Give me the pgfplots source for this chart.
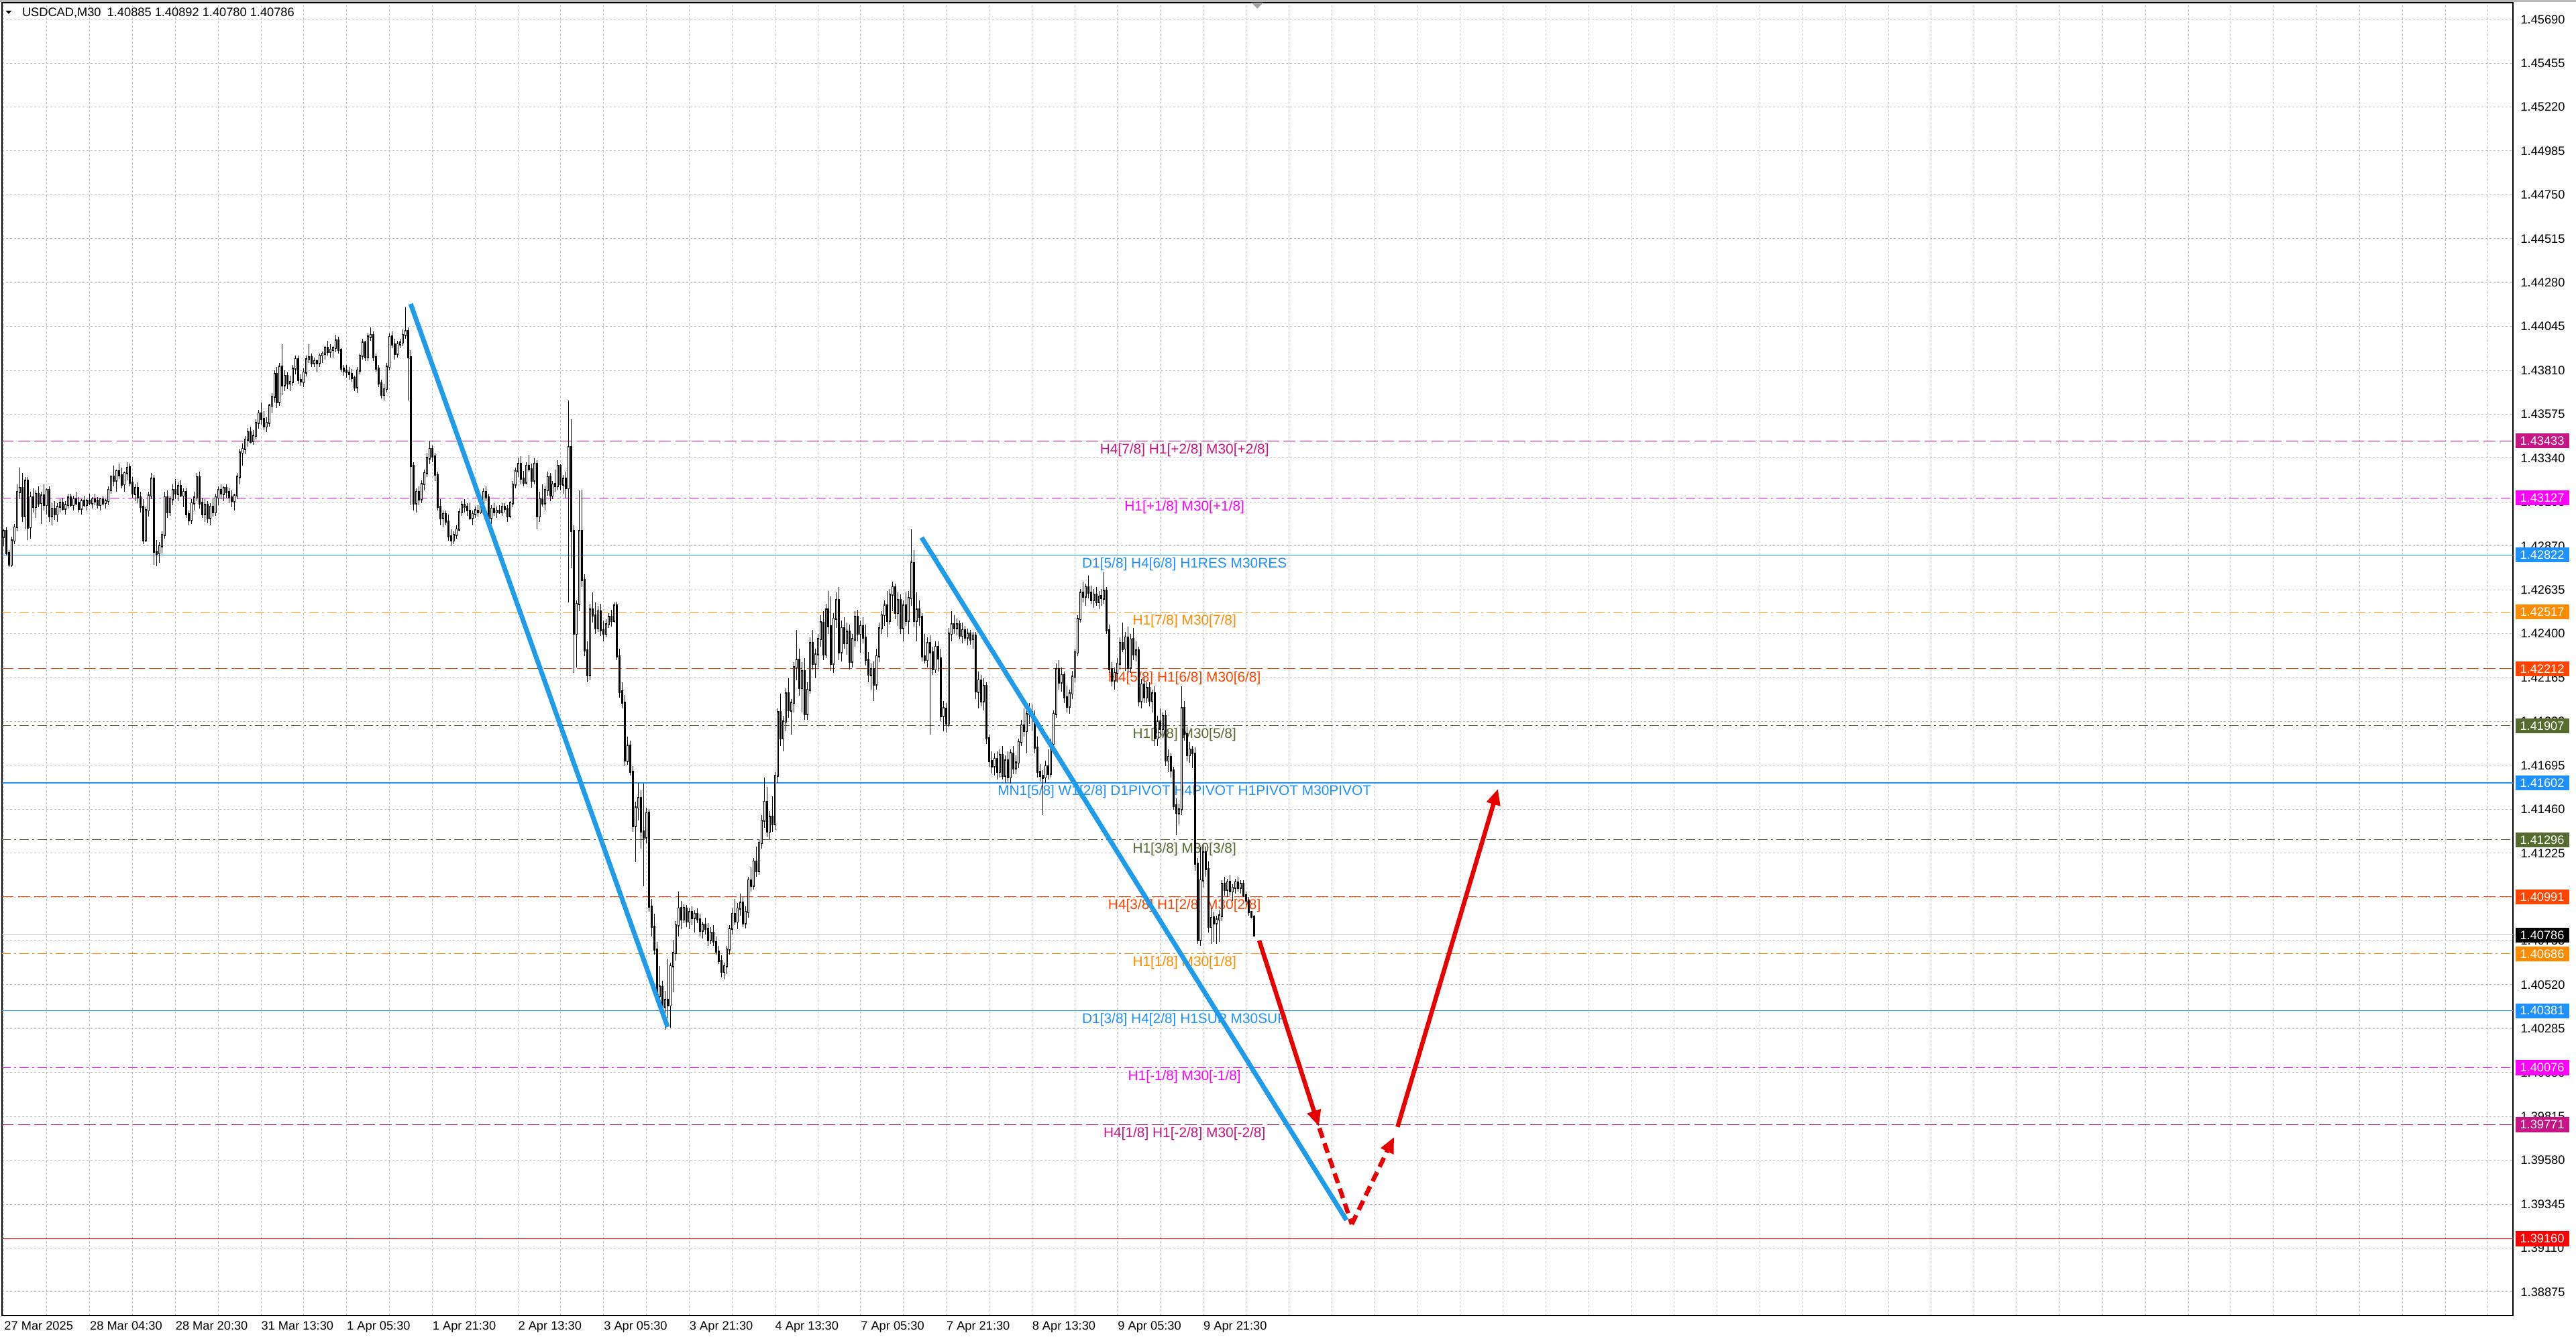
\documentclass[border=0pt]{standalone}
\usepackage{fontspec}
\setmainfont{Liberation Sans}
\usepackage{pgfplots}
\pgfplotsset{compat=1.18}
\usepackage{pgfplotstable}
\usetikzlibrary{arrows.meta}

\definecolor{mvr}{RGB}{199,21,133}
\definecolor{mag}{RGB}{255,0,255}
\definecolor{dblue}{RGB}{30,144,255}
\definecolor{dorange}{RGB}{255,140,0}
\definecolor{ored}{RGB}{255,69,0}
\definecolor{olive}{RGB}{85,107,47}
\definecolor{gridc}{RGB}{192,192,192}
\definecolor{silverc}{RGB}{192,192,192}
\definecolor{tblue}{RGB}{30,155,235}
\definecolor{tred}{RGB}{232,0,0}

\newcommand\fs{\fontsize{7.3}{8.5}\selectfont}
\newcommand\fl{\fontsize{8.35}{10}\selectfont}

\tikzset{
  lvl/.style={line width=0.4pt},
  dsh/.style={dash pattern=on 7.2pt off 2.6pt},
  dd/.style={dash pattern=on 5.6pt off 2pt on 1.2pt off 2pt},
  lab/.style={anchor=north, inner sep=0pt, yshift=-1.4pt, font=\fl},
  box/.style={anchor=west, xshift=1.2pt, minimum width=32pt, minimum height=8.9pt, inner sep=0pt, text=white, font=\fs}
}

\pgfplotstableread{
x o h l c
0 1.4292 1.4296 1.4287 1.4295
1 1.4295 1.4297 1.4282 1.4283
2 1.4283 1.4285 1.4276 1.4277
3 1.4277 1.4292 1.4276 1.4290
4 1.4290 1.4299 1.4288 1.4297
5 1.4297 1.4320 1.4295 1.4316
6 1.4316 1.4329 1.4312 1.4318
7 1.4318 1.4326 1.4300 1.4303
8 1.4303 1.4324 1.4296 1.4322
9 1.4322 1.4324 1.4290 1.4297
10 1.4297 1.4316 1.4291 1.4313
11 1.4313 1.4318 1.4305 1.4308
12 1.4308 1.4317 1.4302 1.4315
13 1.4315 1.4319 1.4308 1.4310
14 1.4310 1.4316 1.4299 1.4314
15 1.4314 1.4320 1.4306 1.4309
16 1.4309 1.4318 1.4304 1.4317
17 1.4317 1.4319 1.4300 1.4303
18 1.4303 1.4310 1.4298 1.4307
19 1.4307 1.4311 1.4301 1.4304
20 1.4304 1.4310 1.4300 1.4308
21 1.4308 1.4312 1.4305 1.4310
22 1.4310 1.4313 1.4306 1.4307
23 1.4307 1.4311 1.4304 1.4309
24 1.4309 1.4315 1.4307 1.4313
25 1.4313 1.4315 1.4308 1.4309
26 1.4309 1.4314 1.4306 1.4312
27 1.4312 1.4316 1.4309 1.4310
28 1.4310 1.4313 1.4305 1.4307
29 1.4307 1.4312 1.4304 1.4311
30 1.4311 1.4314 1.4308 1.4309
31 1.4309 1.4312 1.4306 1.4311
32 1.4311 1.4315 1.4309 1.4310
33 1.4310 1.4313 1.4307 1.4312
34 1.4312 1.4315 1.4309 1.4311
35 1.4311 1.4313 1.4307 1.4309
36 1.4309 1.4313 1.4306 1.4312
37 1.4312 1.4314 1.4309 1.4310
38 1.4310 1.4312 1.4307 1.4311
39 1.4311 1.4319 1.4309 1.4317
40 1.4317 1.4325 1.4315 1.4324
41 1.4324 1.4330 1.4319 1.4322
42 1.4322 1.4328 1.4316 1.4327
43 1.4327 1.4331 1.4323 1.4325
44 1.4325 1.4329 1.4318 1.4320
45 1.4320 1.4327 1.4316 1.4326
46 1.4326 1.4332 1.4322 1.4329
47 1.4329 1.4331 1.4319 1.4321
48 1.4321 1.4324 1.4313 1.4315
49 1.4315 1.4320 1.4311 1.4318
50 1.4318 1.4321 1.4310 1.4313
51 1.4313 1.4316 1.4305 1.4308
52 1.4308 1.4312 1.4288 1.4290
53 1.4290 1.4308 1.4289 1.4306
54 1.4306 1.4316 1.4303 1.4314
55 1.4314 1.4326 1.4312 1.4323
56 1.4323 1.4325 1.4277 1.4284
57 1.4284 1.4290 1.4276 1.4283
58 1.4283 1.4289 1.4278 1.4287
59 1.4287 1.4295 1.4283 1.4293
60 1.4293 1.4316 1.4291 1.4313
61 1.4313 1.4317 1.4302 1.4305
62 1.4305 1.4314 1.4303 1.4312
63 1.4312 1.4320 1.4309 1.4317
64 1.4317 1.4323 1.4312 1.4315
65 1.4315 1.4321 1.4311 1.4319
66 1.4319 1.4322 1.4313 1.4314
67 1.4314 1.4318 1.4308 1.4316
68 1.4316 1.4318 1.4302 1.4304
69 1.4304 1.4306 1.4298 1.4301
70 1.4301 1.4312 1.4299 1.4310
71 1.4310 1.4316 1.4306 1.4313
72 1.4313 1.4326 1.4311 1.4324
73 1.4324 1.4327 1.4307 1.4310
74 1.4310 1.4313 1.4302 1.4304
75 1.4304 1.4312 1.4300 1.4309
76 1.4309 1.4311 1.4299 1.4302
77 1.4302 1.4310 1.4298 1.4308
78 1.4308 1.4313 1.4303 1.4305
79 1.4305 1.4315 1.4303 1.4313
80 1.4313 1.4319 1.4309 1.4317
81 1.4317 1.4320 1.4312 1.4315
82 1.4315 1.4319 1.4311 1.4318
83 1.4318 1.4320 1.4313 1.4316
84 1.4316 1.4318 1.4310 1.4313
85 1.4313 1.4317 1.4308 1.4311
86 1.4311 1.4315 1.4306 1.4314
87 1.4314 1.4326 1.4312 1.4324
88 1.4324 1.4339 1.4320 1.4337
89 1.4337 1.4342 1.4330 1.4339
90 1.4339 1.4346 1.4336 1.4344
91 1.4344 1.4350 1.4340 1.4348
92 1.4348 1.4351 1.4342 1.4343
93 1.4343 1.4349 1.4341 1.4346
94 1.4346 1.4355 1.4344 1.4353
95 1.4353 1.4360 1.4350 1.4358
96 1.4358 1.4364 1.4352 1.4355
97 1.4355 1.4359 1.4349 1.4351
98 1.4351 1.4356 1.4348 1.4353
99 1.4353 1.4363 1.4351 1.4362
100 1.4362 1.4369 1.4358 1.4367
101 1.4367 1.4381 1.4364 1.4379
102 1.4379 1.4383 1.4361 1.4364
103 1.4364 1.4385 1.4362 1.4383
104 1.4383 1.4395 1.4368 1.4373
105 1.4373 1.4381 1.4370 1.4378
106 1.4378 1.4380 1.4371 1.4374
107 1.4374 1.4378 1.4370 1.4375
108 1.4375 1.4384 1.4373 1.4382
109 1.4382 1.4389 1.4379 1.4387
110 1.4387 1.4389 1.4374 1.4376
111 1.4376 1.4379 1.4373 1.4375
112 1.4375 1.4382 1.4372 1.4380
113 1.4380 1.4389 1.4378 1.4387
114 1.4387 1.4395 1.4385 1.4388
115 1.4388 1.4390 1.4383 1.4385
116 1.4385 1.4388 1.4383 1.4386
117 1.4386 1.4387 1.4380 1.4385
118 1.4385 1.4390 1.4383 1.4389
119 1.4389 1.4391 1.4385 1.4390
120 1.4390 1.4394 1.4387 1.4393
121 1.4393 1.4397 1.4389 1.4391
122 1.4391 1.4395 1.4388 1.4392
123 1.4392 1.4394 1.4388 1.4393
124 1.4393 1.4400 1.4391 1.4397
125 1.4397 1.4399 1.4390 1.4392
126 1.4392 1.4393 1.4380 1.4382
127 1.4382 1.4384 1.4378 1.4381
128 1.4381 1.4384 1.4377 1.4380
129 1.4380 1.4383 1.4376 1.4379
130 1.4379 1.4382 1.4375 1.4377
131 1.4377 1.4378 1.4370 1.4372
132 1.4372 1.4383 1.4369 1.4381
133 1.4381 1.4390 1.4379 1.4389
134 1.4389 1.4398 1.4387 1.4396
135 1.4396 1.4397 1.4386 1.4388
136 1.4388 1.4401 1.4386 1.4399
137 1.4399 1.4404 1.4397 1.4400
138 1.4400 1.4402 1.4386 1.4388
139 1.4388 1.4390 1.4380 1.4382
140 1.4382 1.4384 1.4372 1.4374
141 1.4374 1.4376 1.4366 1.4368
142 1.4368 1.4374 1.4365 1.4371
143 1.4371 1.4385 1.4369 1.4383
144 1.4383 1.4401 1.4381 1.4399
145 1.4399 1.4402 1.4393 1.4395
146 1.4395 1.4398 1.4387 1.4390
147 1.4390 1.4397 1.4388 1.4395
148 1.4395 1.4398 1.4393 1.4396
149 1.4396 1.4403 1.4394 1.4400
150 1.4400 1.4415 1.4398 1.4402
151 1.4402 1.4404 1.4365 1.4388
152 1.4388 1.4392 1.4309 1.4330
153 1.4330 1.4332 1.4306 1.4310
154 1.4310 1.4318 1.4305 1.4316
155 1.4316 1.4319 1.4309 1.4312
156 1.4312 1.4322 1.4310 1.4320
157 1.4320 1.4328 1.4317 1.4326
158 1.4326 1.4337 1.4324 1.4334
159 1.4334 1.4343 1.4331 1.4339
160 1.4339 1.4341 1.4332 1.4335
161 1.4335 1.4337 1.4322 1.4325
162 1.4325 1.4327 1.4306 1.4308
163 1.4308 1.4312 1.4298 1.4302
164 1.4302 1.4306 1.4297 1.4304
165 1.4304 1.4306 1.4298 1.4300
166 1.4300 1.4304 1.4290 1.4292
167 1.4292 1.4296 1.4287 1.4290
168 1.4290 1.4295 1.4288 1.4293
169 1.4293 1.4298 1.4291 1.4296
170 1.4296 1.4307 1.4295 1.4305
171 1.4305 1.4311 1.4303 1.4309
172 1.4309 1.4312 1.4305 1.4308
173 1.4308 1.4310 1.4303 1.4306
174 1.4306 1.4310 1.4301 1.4302
175 1.4302 1.4306 1.4298 1.4304
176 1.4304 1.4308 1.4302 1.4306
177 1.4306 1.4309 1.4303 1.4305
178 1.4305 1.4310 1.4304 1.4309
179 1.4309 1.4318 1.4307 1.4316
180 1.4316 1.4319 1.4311 1.4313
181 1.4313 1.4315 1.4300 1.4302
182 1.4302 1.4309 1.4299 1.4307
183 1.4307 1.4310 1.4303 1.4305
184 1.4305 1.4308 1.4302 1.4306
185 1.4306 1.4309 1.4304 1.4305
186 1.4305 1.4310 1.4303 1.4308
187 1.4308 1.4310 1.4305 1.4307
188 1.4307 1.4309 1.4300 1.4303
189 1.4303 1.4311 1.4302 1.4310
190 1.4310 1.4322 1.4308 1.4320
191 1.4320 1.4329 1.4318 1.4327
192 1.4327 1.4334 1.4324 1.4331
193 1.4331 1.4335 1.4320 1.4323
194 1.4323 1.4327 1.4319 1.4321
195 1.4321 1.4332 1.4320 1.4330
196 1.4330 1.4336 1.4327 1.4328
197 1.4328 1.4331 1.4318 1.4322
198 1.4322 1.4334 1.4320 1.4331
199 1.4331 1.4333 1.4296 1.4303
200 1.4303 1.4316 1.4300 1.4312
201 1.4312 1.4320 1.4308 1.4310
202 1.4310 1.4319 1.4306 1.4317
203 1.4317 1.4327 1.4314 1.4324
204 1.4324 1.4326 1.4311 1.4314
205 1.4314 1.4322 1.4312 1.4320
206 1.4320 1.4328 1.4316 1.4319
207 1.4319 1.4333 1.4317 1.4330
208 1.4330 1.4331 1.4317 1.4320
209 1.4320 1.4325 1.4315 1.4323
210 1.4323 1.4327 1.4313 1.4318
211 1.4318 1.4365 1.4257 1.4340
212 1.4340 1.4355 1.4275 1.4295
213 1.4295 1.4298 1.4219 1.4240
214 1.4240 1.4258 1.4222 1.4256
215 1.4256 1.4317 1.4252 1.4295
216 1.4295 1.4317 1.4265 1.4269
217 1.4269 1.4272 1.4228 1.4231
218 1.4231 1.4236 1.4214 1.4218
219 1.4218 1.4256 1.4215 1.4253
220 1.4253 1.4262 1.4246 1.4250
221 1.4250 1.4257 1.4240 1.4243
222 1.4243 1.4255 1.4241 1.4252
223 1.4252 1.4256 1.4239 1.4242
224 1.4242 1.4247 1.4236 1.4240
225 1.4240 1.4248 1.4238 1.4245
226 1.4245 1.4251 1.4243 1.4249
227 1.4249 1.4253 1.4244 1.4247
228 1.4247 1.4257 1.4246 1.4255
229 1.4255 1.4257 1.4226 1.4228
230 1.4228 1.4232 1.4206 1.4209
231 1.4209 1.4214 1.4200 1.4203
232 1.4203 1.4207 1.4169 1.4172
233 1.4172 1.4185 1.4170 1.4180
234 1.4180 1.4183 1.4164 1.4166
235 1.4166 1.4169 1.4134 1.4137
236 1.4137 1.4150 1.4118 1.4147
237 1.4147 1.4160 1.4140 1.4152
238 1.4152 1.4156 1.4125 1.4134
239 1.4134 1.4160 1.4105 1.4131
240 1.4131 1.4147 1.4128 1.4144
241 1.4144 1.4146 1.4091 1.4094
242 1.4094 1.4098 1.4078 1.4083
243 1.4083 1.4090 1.4068 1.4071
244 1.4071 1.4075 1.4042 1.4046
245 1.4046 1.4062 1.4040 1.4051
246 1.4051 1.4054 1.4036 1.4040
247 1.4040 1.4049 1.4028 1.4044
248 1.4044 1.4066 1.4034 1.4041
249 1.4041 1.4064 1.4029 1.4062
250 1.4062 1.4076 1.4048 1.4069
251 1.4069 1.4086 1.4065 1.4084
252 1.4084 1.4102 1.4078 1.4093
253 1.4093 1.4097 1.4082 1.4087
254 1.4087 1.4095 1.4085 1.4093
255 1.4093 1.4095 1.4083 1.4086
256 1.4086 1.4093 1.4082 1.4091
257 1.4091 1.4094 1.4084 1.4088
258 1.4088 1.4092 1.4080 1.4090
259 1.4090 1.4093 1.4085 1.4087
260 1.4087 1.4090 1.4078 1.4081
261 1.4081 1.4086 1.4077 1.4084
262 1.4084 1.4088 1.4079 1.4082
263 1.4082 1.4085 1.4073 1.4076
264 1.4076 1.4083 1.4074 1.4080
265 1.4080 1.4084 1.4073 1.4075
266 1.4075 1.4078 1.4068 1.4070
267 1.4070 1.4073 1.4063 1.4065
268 1.4065 1.4068 1.4056 1.4059
269 1.4059 1.4064 1.4055 1.4062
270 1.4062 1.4073 1.4058 1.4071
271 1.4071 1.4084 1.4068 1.4082
272 1.4082 1.4093 1.4079 1.4090
273 1.4090 1.4098 1.4084 1.4086
274 1.4086 1.4096 1.4082 1.4093
275 1.4093 1.4101 1.4089 1.4096
276 1.4096 1.4099 1.4083 1.4085
277 1.4085 1.4094 1.4082 1.4091
278 1.4091 1.4110 1.4088 1.4108
279 1.4108 1.4115 1.4102 1.4105
280 1.4105 1.4120 1.4103 1.4118
281 1.4118 1.4126 1.4110 1.4113
282 1.4113 1.4130 1.4111 1.4128
283 1.4128 1.4143 1.4125 1.4140
284 1.4140 1.4163 1.4136 1.4150
285 1.4150 1.4158 1.4131 1.4134
286 1.4134 1.4145 1.4130 1.4142
287 1.4142 1.4153 1.4134 1.4138
288 1.4138 1.4166 1.4135 1.4164
289 1.4164 1.4200 1.4160 1.4198
290 1.4198 1.4208 1.4180 1.4184
291 1.4184 1.4196 1.4177 1.4193
292 1.4193 1.4211 1.4188 1.4208
293 1.4208 1.4216 1.4195 1.4199
294 1.4199 1.4205 1.4186 1.4203
295 1.4203 1.4225 1.4198 1.4222
296 1.4222 1.4242 1.4215 1.4226
297 1.4226 1.4232 1.4207 1.4211
298 1.4211 1.4225 1.4198 1.4220
299 1.4220 1.4227 1.4194 1.4197
300 1.4197 1.4214 1.4194 1.4210
301 1.4210 1.4238 1.4208 1.4235
302 1.4235 1.4242 1.4221 1.4224
303 1.4224 1.4232 1.4216 1.4229
304 1.4229 1.4240 1.4222 1.4237
305 1.4237 1.4250 1.4233 1.4246
306 1.4246 1.4252 1.4226 1.4229
307 1.4229 1.4256 1.4227 1.4253
308 1.4253 1.4263 1.4240 1.4244
309 1.4244 1.4260 1.4220 1.4224
310 1.4224 1.4251 1.4219 1.4248
311 1.4248 1.4262 1.4243 1.4258
312 1.4258 1.4265 1.4226 1.4230
313 1.4230 1.4247 1.4225 1.4243
314 1.4243 1.4249 1.4232 1.4235
315 1.4235 1.4246 1.4229 1.4241
316 1.4241 1.4245 1.4221 1.4225
317 1.4225 1.4240 1.4222 1.4237
318 1.4237 1.4252 1.4233 1.4249
319 1.4249 1.4253 1.4236 1.4240
320 1.4240 1.4247 1.4230 1.4244
321 1.4244 1.4249 1.4235 1.4238
322 1.4238 1.4245 1.4223 1.4226
323 1.4226 1.4230 1.4214 1.4218
324 1.4218 1.4224 1.4210 1.4221
325 1.4221 1.4225 1.4204 1.4213
326 1.4213 1.4232 1.4210 1.4228
327 1.4228 1.4246 1.4225 1.4243
328 1.4243 1.4252 1.4240 1.4250
329 1.4250 1.4258 1.4244 1.4255
330 1.4255 1.4263 1.4238 1.4247
331 1.4247 1.4264 1.4245 1.4261
332 1.4261 1.4268 1.4252 1.4265
333 1.4265 1.4267 1.4248 1.4251
334 1.4251 1.4262 1.4244 1.4258
335 1.4258 1.4261 1.4240 1.4243
336 1.4243 1.4258 1.4236 1.4255
337 1.4255 1.4262 1.4244 1.4247
338 1.4247 1.4263 1.4240 1.4259
339 1.4259 1.4296 1.4255 1.4278
340 1.4278 1.4285 1.4244 1.4247
341 1.4247 1.4262 1.4236 1.4253
342 1.4253 1.4258 1.4244 1.4249
343 1.4249 1.4251 1.4225 1.4228
344 1.4228 1.4240 1.4224 1.4226
345 1.4226 1.4238 1.4222 1.4235
346 1.4235 1.4239 1.4186 1.4230
347 1.4230 1.4233 1.4218 1.4221
348 1.4221 1.4236 1.4219 1.4233
349 1.4233 1.4236 1.4220 1.4227
350 1.4227 1.4232 1.4193 1.4196
351 1.4196 1.4204 1.4188 1.4200
352 1.4200 1.4203 1.4187 1.4192
353 1.4192 1.4243 1.4190 1.4240
354 1.4240 1.4252 1.4236 1.4245
355 1.4245 1.4250 1.4240 1.4243
356 1.4243 1.4248 1.4239 1.4245
357 1.4245 1.4247 1.4237 1.4239
358 1.4239 1.4246 1.4235 1.4242
359 1.4242 1.4244 1.4236 1.4238
360 1.4238 1.4243 1.4234 1.4240
361 1.4240 1.4242 1.4234 1.4237
362 1.4237 1.4241 1.4232 1.4239
363 1.4239 1.4241 1.4205 1.4209
364 1.4209 1.4220 1.4200 1.4215
365 1.4215 1.4218 1.4201 1.4204
366 1.4204 1.4216 1.4199 1.4212
367 1.4212 1.4214 1.4181 1.4184
368 1.4184 1.4186 1.4169 1.4172
369 1.4172 1.4177 1.4165 1.4169
370 1.4169 1.4176 1.4164 1.4173
371 1.4173 1.4177 1.4162 1.4166
372 1.4166 1.4178 1.4163 1.4175
373 1.4175 1.4180 1.4162 1.4164
374 1.4164 1.4175 1.4160 1.4172
375 1.4172 1.4177 1.4161 1.4163
376 1.4163 1.4178 1.4160 1.4176
377 1.4176 1.4180 1.4165 1.4168
378 1.4168 1.4175 1.4165 1.4171
379 1.4171 1.4184 1.4168 1.4182
380 1.4182 1.4194 1.4180 1.4191
381 1.4191 1.4200 1.4185 1.4188
382 1.4188 1.4199 1.4176 1.4197
383 1.4197 1.4203 1.4192 1.4198
384 1.4198 1.4202 1.4188 1.4195
385 1.4195 1.4199 1.4176 1.4179
386 1.4179 1.4185 1.4163 1.4166
387 1.4166 1.4170 1.4161 1.4164
388 1.4164 1.4167 1.4143 1.4163
389 1.4163 1.4172 1.4160 1.4169
390 1.4169 1.4178 1.4162 1.4165
391 1.4165 1.4184 1.4163 1.4181
392 1.4181 1.4199 1.4178 1.4197
393 1.4197 1.4224 1.4195 1.4221
394 1.4221 1.4226 1.4210 1.4214
395 1.4214 1.4222 1.4209 1.4218
396 1.4218 1.4220 1.4203 1.4206
397 1.4206 1.4212 1.4198 1.4201
398 1.4201 1.4210 1.4197 1.4208
399 1.4208 1.4220 1.4205 1.4217
400 1.4217 1.4232 1.4214 1.4230
401 1.4230 1.4250 1.4228 1.4248
402 1.4248 1.4264 1.4246 1.4262
403 1.4262 1.4268 1.4257 1.4260
404 1.4260 1.4267 1.4255 1.4265
405 1.4265 1.4271 1.4259 1.4262
406 1.4262 1.4266 1.4256 1.4258
407 1.4258 1.4264 1.4254 1.4261
408 1.4261 1.4265 1.4255 1.4257
409 1.4257 1.4263 1.4253 1.4260
410 1.4260 1.4264 1.4255 1.4259
411 1.4259 1.4273 1.4256 1.4263
412 1.4263 1.4265 1.4240 1.4242
413 1.4242 1.4245 1.4219 1.4221
414 1.4221 1.4225 1.4212 1.4215
415 1.4215 1.4222 1.4210 1.4219
416 1.4219 1.4227 1.4214 1.4224
417 1.4224 1.4238 1.4221 1.4235
418 1.4235 1.4246 1.4230 1.4232
419 1.4232 1.4241 1.4220 1.4238
420 1.4238 1.4244 1.4219 1.4222
421 1.4222 1.4240 1.4219 1.4237
422 1.4237 1.4243 1.4226 1.4229
423 1.4229 1.4236 1.4225 1.4231
424 1.4231 1.4233 1.4201 1.4204
425 1.4204 1.4216 1.4200 1.4213
426 1.4213 1.4217 1.4203 1.4206
427 1.4206 1.4214 1.4203 1.4211
428 1.4211 1.4214 1.4201 1.4204
429 1.4204 1.4210 1.4198 1.4208
430 1.4208 1.4212 1.4180 1.4184
431 1.4184 1.4196 1.4180 1.4193
432 1.4193 1.4200 1.4186 1.4189
433 1.4189 1.4198 1.4185 1.4196
434 1.4196 1.4199 1.4169 1.4172
435 1.4172 1.4178 1.4166 1.4174
436 1.4174 1.4176 1.4163 1.4167
437 1.4167 1.4169 1.4146 1.4148
438 1.4148 1.4152 1.4132 1.4144
439 1.4144 1.4149 1.4138 1.4146
440 1.4146 1.4212 1.4143 1.4200
441 1.4200 1.4204 1.4183 1.4186
442 1.4186 1.4190 1.4172 1.4175
443 1.4175 1.4182 1.4171 1.4178
444 1.4178 1.4180 1.4168 1.4176
445 1.4176 1.4179 1.4113 1.4117
446 1.4117 1.4120 1.4074 1.4076
447 1.4076 1.4126 1.4073 1.4108
448 1.4108 1.4127 1.4104 1.4123
449 1.4123 1.4126 1.4110 1.4114
450 1.4114 1.4118 1.4080 1.4083
451 1.4083 1.4093 1.4074 1.4088
452 1.4088 1.4091 1.4075 1.4085
453 1.4085 1.4089 1.4074 1.4087
454 1.4087 1.4092 1.4075 1.4089
455 1.4089 1.4108 1.4086 1.4106
456 1.4106 1.4110 1.4100 1.4103
457 1.4103 1.4109 1.4099 1.4107
458 1.4107 1.4111 1.4100 1.4102
459 1.4102 1.4106 1.4097 1.4104
460 1.4104 1.4109 1.4101 1.4107
461 1.4107 1.4110 1.4102 1.4104
462 1.4104 1.4108 1.4101 1.4106
463 1.4106 1.4108 1.4099 1.4100
464 1.4100 1.4102 1.4095 1.4097
465 1.4097 1.4099 1.4089 1.4091
466 1.40910 1.40915 1.40875 1.40885
467 1.40885 1.40892 1.40780 1.40786
}\candles

\begin{document}
\begin{tikzpicture}
\begin{axis}[
  width=1497.2pt, height=782.8pt, scale only axis,
  xmin=-0.75, xmax=937.3, ymin=1.38749, ymax=1.45779,
  axis line style={black, line width=0.5pt},
  major tick length=0pt, minor tick length=0pt,
  xtick={0,32,...,448},
  xticklabels={27 Mar 2025, 28 Mar 04:30, 28 Mar 20:30, 31 Mar 13:30, 1 Apr 05:30, 1 Apr 21:30, 2 Apr 13:30, 3 Apr 05:30, 3 Apr 21:30, 4 Apr 13:30, 7 Apr 05:30, 7 Apr 21:30, 8 Apr 13:30, 9 Apr 05:30, 9 Apr 21:30},
  xticklabel style={anchor=north west, inner sep=0pt, font=\fs, yshift=-3.4pt},
  minor xtick={0,16,...,928},
  xminorgrids=true, xmajorgrids=false,
  ytick={1.38875,1.39110,1.39345,1.39580,1.39815,1.40050,1.40285,1.40520,1.40755,1.40990,1.41225,1.41460,1.41695,1.41930,1.42165,1.42400,1.42635,1.42870,1.43105,1.43340,1.43575,1.43810,1.44045,1.44280,1.44515,1.44750,1.44985,1.45220,1.45455,1.45690},
  yticklabels={1.38875,1.39110,1.39345,1.39580,1.39815,1.40050,1.40285,1.40520,1.40755,1.40990,1.41225,1.41460,1.41695,1.41930,1.42165,1.42400,1.42635,1.42870,1.43105,1.43340,1.43575,1.43810,1.44045,1.44280,1.44515,1.44750,1.44985,1.45220,1.45455,1.45690},
  yticklabel pos=right,
  yticklabel style={anchor=west, inner sep=0pt, font=\fs, xshift=4.4pt},
  ymajorgrids=true,
  grid style={draw=gridc, dash pattern=on 1.2pt off 1.2pt, line width=0.4pt},
]
% level lines
\addplot[forget plot, lvl, mvr, dsh] coordinates {(-1,1.43433) (940,1.43433)};
\addplot[forget plot, lvl, mag, dd] coordinates {(-1,1.43127) (940,1.43127)};
\addplot[forget plot, lvl, dblue] coordinates {(-1,1.42822) (940,1.42822)};
\addplot[forget plot, lvl, dorange, dd] coordinates {(-1,1.42517) (940,1.42517)};
\addplot[forget plot, lvl, ored, dsh] coordinates {(-1,1.42212) (940,1.42212)};
\addplot[forget plot, lvl, olive, dd] coordinates {(-1,1.41907) (940,1.41907)};
\addplot[forget plot, dblue, line width=0.8pt] coordinates {(-1,1.41602) (940,1.41602)};
\addplot[forget plot, lvl, olive, dd] coordinates {(-1,1.41296) (940,1.41296)};
\addplot[forget plot, lvl, ored, dsh] coordinates {(-1,1.40991) (940,1.40991)};
\addplot[forget plot, lvl, silverc] coordinates {(-1,1.40786) (940,1.40786)};
\addplot[forget plot, lvl, dorange, dd] coordinates {(-1,1.40686) (940,1.40686)};
\addplot[forget plot, lvl, dblue] coordinates {(-1,1.40381) (940,1.40381)};
\addplot[forget plot, lvl, mag, dd] coordinates {(-1,1.40076) (940,1.40076)};
\addplot[forget plot, lvl, mvr, dsh] coordinates {(-1,1.39771) (940,1.39771)};
\addplot[forget plot, lvl, red] coordinates {(-1,1.39160) (940,1.39160)};
% level texts
\node[lab, text=mvr] at (axis cs:441,1.43433) {H4[7/8] H1[+2/8] M30[+2/8]};
\node[lab, text=mag] at (axis cs:441,1.43127) {H1[+1/8] M30[+1/8]};
\node[lab, text=dblue] at (axis cs:441,1.42822) {D1[5/8] H4[6/8] H1RES M30RES};
\node[lab, text=dorange] at (axis cs:441,1.42517) {H1[7/8] M30[7/8]};
\node[lab, text=ored] at (axis cs:441,1.42212) {H4[5/8] H1[6/8] M30[6/8]};
\node[lab, text=olive] at (axis cs:441,1.41907) {H1[5/8] M30[5/8]};
\node[lab, text=dblue] at (axis cs:441,1.41602) {MN1[5/8] W1[2/8] D1PIVOT H4PIVOT H1PIVOT M30PIVOT};
\node[lab, text=olive] at (axis cs:441,1.41296) {H1[3/8] M30[3/8]};
\node[lab, text=ored] at (axis cs:441,1.40991) {H4[3/8] H1[2/8] M30[2/8]};
\node[lab, text=dorange] at (axis cs:441,1.40686) {H1[1/8] M30[1/8]};
\node[lab, text=dblue] at (axis cs:441,1.40381) {D1[3/8] H4[2/8] H1SUP M30SUP};
\node[lab, text=mag] at (axis cs:441,1.40076) {H1[-1/8] M30[-1/8]};
\node[lab, text=mvr] at (axis cs:441,1.39771) {H4[1/8] H1[-2/8] M30[-2/8]};
% candles: wicks
\addplot[draw=none, mark=none, forget plot, error bars/.cd, y dir=both, y explicit, error mark=none,
  error bar style={draw=black, solid, line width=0.4pt}]
  table[x=x, y expr={(\thisrow{h}+\thisrow{l})/2}, y error expr={(\thisrow{h}-\thisrow{l})/2}] {\candles};
% bodies (black)
\addplot[draw=none, mark=none, forget plot, error bars/.cd, y dir=both, y explicit, error mark=none,
  error bar style={draw=black, solid, line width=1.2pt, line cap=rect}]
  table[x=x, y expr={(\thisrow{o}+\thisrow{c})/2}, y error expr={abs(\thisrow{c}-\thisrow{o})/2}] {\candles};
% bullish inner white
\addplot[draw=none, mark=none, forget plot, error bars/.cd, y dir=both, y explicit, error mark=none,
  error bar style={draw=white, solid, line width=0.4pt, line cap=butt}]
  table[x=x, y expr={(\thisrow{o}+\thisrow{c})/2}, y error expr={(\thisrow{c}>\thisrow{o}) ? ((\thisrow{c}-\thisrow{o})/2) : 0}] {\candles};
% trend lines
\addplot[forget plot, tblue, line width=2.8pt] coordinates {(151.9,1.44166) (247.9,1.40294)};
\addplot[forget plot, tblue, line width=2.8pt] coordinates {(342.8,1.42915) (501.5,1.39260)};
% forecast arrows
\addplot[forget plot, tred, line width=2.6pt, -{Triangle[length=9.5pt,width=8pt]}] coordinates {(468.9,1.40757) (491.2,1.39762)};
\addplot[forget plot, tred, line width=2.6pt, dash pattern=on 6pt off 3.5pt] coordinates {(491.4,1.39752) (503.5,1.39238)};
\addplot[forget plot, tred, line width=2.6pt, dash pattern=on 6pt off 3.5pt, -{Triangle[length=9.5pt,width=8pt]}] coordinates {(503.5,1.39238) (519.3,1.39705)};
\addplot[forget plot, tred, line width=2.6pt, -{Triangle[length=9.5pt,width=8pt]}] coordinates {(520.6,1.39759) (558.1,1.41569)};
% header
\node[anchor=west, inner sep=0pt, font=\fs] at ([shift={(11.8pt,-6.1pt)}]rel axis cs:0,1) {USDCAD,M30\enspace 1.40885 1.40892 1.40780 1.40786};
% reference coordinates
\coordinate (LL) at (rel axis cs:0,0);
\coordinate (UR) at (rel axis cs:1,1);
\coordinate (UL) at (rel axis cs:0,1);
\coordinate (tri) at (axis cs:468.2,1.45779);
\coordinate (b1) at (axis cs:937.3,1.43433);
\coordinate (b2) at (axis cs:937.3,1.43127);
\coordinate (b3) at (axis cs:937.3,1.42822);
\coordinate (b4) at (axis cs:937.3,1.42517);
\coordinate (b5) at (axis cs:937.3,1.42212);
\coordinate (b6) at (axis cs:937.3,1.41907);
\coordinate (b7) at (axis cs:937.3,1.41602);
\coordinate (b8) at (axis cs:937.3,1.41296);
\coordinate (b9) at (axis cs:937.3,1.40991);
\coordinate (b10) at (axis cs:937.3,1.40786);
\coordinate (b11) at (axis cs:937.3,1.40686);
\coordinate (b12) at (axis cs:937.3,1.40381);
\coordinate (b13) at (axis cs:937.3,1.40076);
\coordinate (b14) at (axis cs:937.3,1.39771);
\coordinate (b15) at (axis cs:937.3,1.39160);
\end{axis}
\fill[black] ([shift={(2.2pt,-4.8pt)}]UL) -- ++(3.5pt,0) -- ++(-1.75pt,-1.9pt) -- cycle;
\fill[gray!70] ([xshift=-3.6pt]tri) -- ([xshift=3.6pt]tri) -- ([yshift=-3.6pt]tri) -- cycle;
\fill[gray!55] ([shift={(-1.2pt,0.3pt)}]UL) rectangle ([shift={(37.6pt,1.6pt)}]UR);
\node[box, fill=mvr] at (b1) {1.43433};
\node[box, fill=mag] at (b2) {1.43127};
\node[box, fill=dblue] at (b3) {1.42822};
\node[box, fill=dorange] at (b4) {1.42517};
\node[box, fill=ored] at (b5) {1.42212};
\node[box, fill=olive] at (b6) {1.41907};
\node[box, fill=dblue] at (b7) {1.41602};
\node[box, fill=olive] at (b8) {1.41296};
\node[box, fill=ored] at (b9) {1.40991};
\node[box, fill=black] at (b10) {1.40786};
\node[box, fill=dorange] at (b11) {1.40686};
\node[box, fill=dblue] at (b12) {1.40381};
\node[box, fill=mag] at (b13) {1.40076};
\node[box, fill=mvr] at (b14) {1.39771};
\node[box, fill=red] at (b15) {1.39160};
\pgfresetboundingbox
\path[use as bounding box] ([shift={(-1.2pt,-14pt)}]LL) rectangle ([shift={(37.6pt,1.6pt)}]UR);
\end{tikzpicture}
\end{document}
